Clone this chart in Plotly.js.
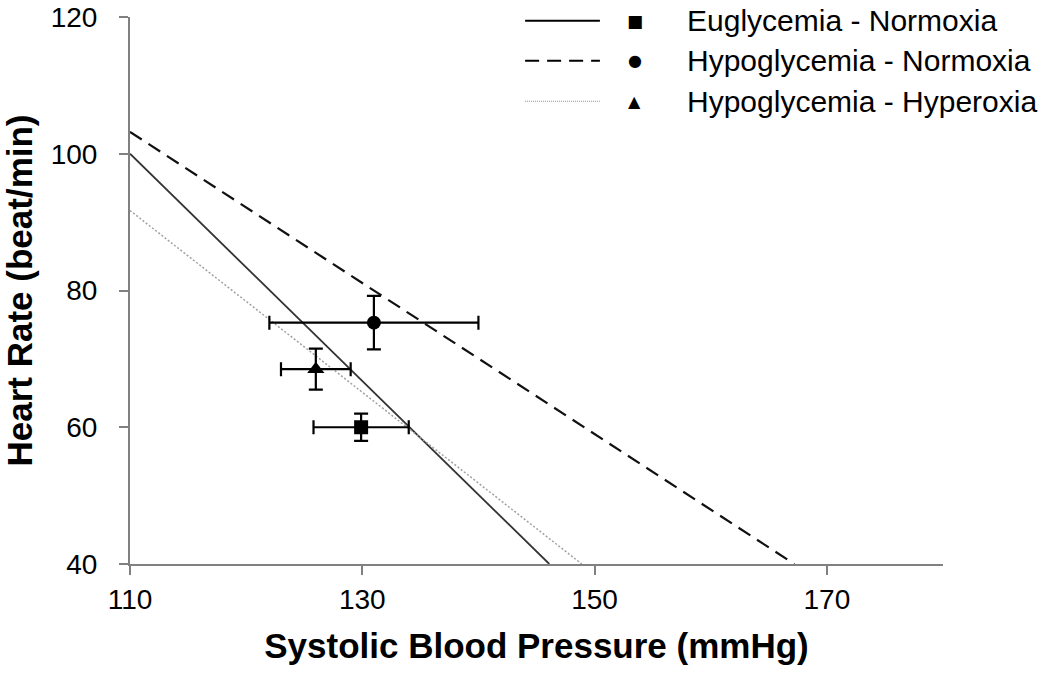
<!DOCTYPE html>
<html>
<head>
<meta charset="utf-8">
<script src="https://cdn.plot.ly/plotly-3.0.1.min.js"></script>
<style>
  html, body { margin: 0; padding: 0; background: #fff; }
  #chart { width: 1050px; height: 676px; }
</style>
</head>
<body>
<div id="chart"></div>
<script>
// regression lines (SBP vs HR)
const groups = ['Euglycemia - Normoxia', 'Hypoglycemia - Normoxia', 'Hypoglycemia - Hyperoxia'];
const lineX_eu = [110, 146.1];
const lineY_eu = [100, 40];
const lineX_hypoN = [110, 167.2];
const lineY_hypoN = [103.2, 40];
const lineX_hypoH = [110, 148.9];
const lineY_hypoH = [91.7, 40];

// group means +/- error
const sbp = [129.9, 131.0, 126.0];
const hr = [60.0, 75.3, 68.5];
const sbpErr = [4.1, 9.0, 3.0];
const hrErr = [2.0, 3.9, 3.0];
const symbols = ['square', 'circle', 'triangle-up'];
const legendGlyphs = ['■', '●', '▲'];
const dashes = ['solid', '14px,8px', '2px,2px'];
const lineColors = ['#333333', '#111111', '#a0a0a0'];
const lineWidths = [1.8, 2.2, 1.5];

const xTicks = [110, 130, 150, 170];

const traces = [];
const lineXs = [lineX_eu, lineX_hypoN, lineX_hypoH];
const lineYs = [lineY_eu, lineY_hypoN, lineY_hypoH];
for (let i = 0; i < groups.length; i++) {
    traces.push({
        x: lineXs[i],
        y: lineYs[i],
        mode: 'lines',
        name: groups[i],
        line: { color: lineColors[i], width: lineWidths[i], dash: dashes[i] },
        showlegend: false,
        hoverinfo: 'skip',
    });
}
for (let i = 0; i < groups.length; i++) {
    traces.push({
        x: [sbp[i]],
        y: [hr[i]],
        mode: 'markers',
        name: groups[i],
        marker: { symbol: symbols[i], size: i === 2 ? 15 : 14, color: '#000' },
        error_x: { type: 'data', array: [sbpErr[i]], color: '#000', thickness: 2.2, width: 7 },
        error_y: { type: 'data', array: [hrErr[i]], color: '#000', thickness: 2.2, width: 7 },
        showlegend: false,
    });
}

// hand-made legend: line sample, marker, label
const shapes = [];
const annotations = [];
const legendRowsY = [0.993, 0.92, 0.846];
for (let i = 0; i < groups.length; i++) {
    const y = legendRowsY[i];
    shapes.push({
        type: 'line', xref: 'paper', yref: 'paper',
        x0: 0.486, x1: 0.578, y0: y, y1: y,
        line: { color: i === 2 ? '#888' : '#000', width: i === 2 ? 1.2 : 2, dash: i === 2 ? '1px,1px' : dashes[i] },
    });
    annotations.push({
        xref: 'paper', yref: 'paper', x: 0.621, y: y,
        text: legendGlyphs[i], showarrow: false,
        font: { family: 'DejaVu Sans, sans-serif', size: i === 0 ? 17 : 16, color: '#000' },
        xanchor: 'center', yanchor: 'middle',
    });
    annotations.push({
        xref: 'paper', yref: 'paper', x: 0.683, y: y,
        text: groups[i], showarrow: false,
        font: { family: 'Liberation Sans, Arial, sans-serif', size: 30, color: '#000' },
        xanchor: 'left', yanchor: 'middle',
    });
}

Plotly.newPlot('chart', traces, {
    width: 1050,
    height: 676,
    margin: { l: 130, r: 107, t: 17, b: 112 },
    paper_bgcolor: '#fff',
    plot_bgcolor: '#fff',
    showlegend: false,
    xaxis: {
        title: {
            text: 'Systolic Blood Pressure (mmHg)',
            font: { family: 'Liberation Sans, Arial, sans-serif', size: 35, color: '#000', weight: 'bold' },
            standoff: 20,
        },
        range: [110, 180],
        tickvals: xTicks,
        ticktext: xTicks.map(String),
        tickfont: { family: 'Liberation Sans, Arial, sans-serif', size: 28, color: '#000' },
        showline: true, linecolor: '#808080', linewidth: 2,
        ticks: 'outside', ticklen: 9, tickwidth: 2, tickcolor: '#808080',
        showgrid: false, zeroline: false,
        ticklabelstandoff: 0,
    },
    yaxis: {
        title: {
            text: 'Heart Rate (beat/min)',
            font: { family: 'Liberation Sans, Arial, sans-serif', size: 35, color: '#000', weight: 'bold' },
            standoff: 14,
        },
        range: [40, 120],
        dtick: 20,
        tickfont: { family: 'Liberation Sans, Arial, sans-serif', size: 28, color: '#000' },
        showline: true, linecolor: '#808080', linewidth: 2,
        ticks: 'outside', ticklen: 9, tickwidth: 2, tickcolor: '#808080',
        showgrid: false, zeroline: false,
        ticklabelstandoff: 16,
        ticklabeloverflow: 'allow',
    },
    shapes: shapes,
    annotations: annotations,
}, {
    staticPlot: true,
    displayModeBar: false,
});
</script>
</body>
</html>
